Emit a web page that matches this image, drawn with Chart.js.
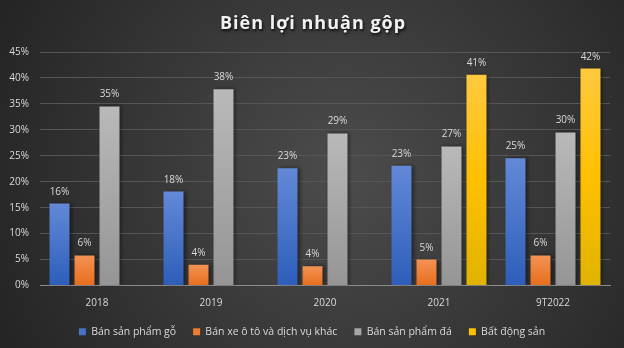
<!DOCTYPE html>
<html>
<head>
<meta charset="utf-8">
<script src="https://cdn.jsdelivr.net/npm/chart.js@4/dist/chart.umd.min.js"></script>
<style>
  html, body { margin: 0; padding: 0; background: #333; }
  #wrap { width: 624px; height: 348px; }
</style>
</head>
<body>
<div id="wrap"><canvas id="marginChart" width="624" height="348"></canvas></div>
<script>
// ===== Data =====
const chartTitle = 'Biên lợi nhuận gộp';
const years = ['2018', '2019', '2020', '2021', '9T2022'];
const seriesNames = ['Bán sản phẩm gỗ', 'Bán xe ô tô và dịch vụ khác', 'Bán sản phẩm đá', 'Bất động sản'];
const woodMargin = [15.8, 18.1, 22.6, 23.1, 24.5];
const carMargin = [5.8, 4.0, 3.7, 5.0, 5.8];
const stoneMargin = [34.5, 37.8, 29.3, 26.8, 29.5];
const propertyMargin = [null, null, null, 40.6, 41.8];
const yTicks = [0, 5, 10, 15, 20, 25, 30, 35, 40, 45];

const FONT = "'Open Sans', sans-serif";
const TEXT = '#d9d9d9';

// Colour stops per series (top -> bottom of each bar)
const legendColors = ['#4472c4', '#ed7d31', '#a5a5a5', '#ffc000'];
const barStops = [
  [[0, '#6389d7'], [1, '#2d5eba']],
  [[0, '#f39355'], [1, '#e76e1c']],
  [[0, '#b9b9b9'], [1, '#959595']],
  [[0, '#ffc940'], [0.5, '#ffc000'], [1, '#e0b300']]
];

// Per-bar vertical gradient
function barGradient(stops) {
  return (context) => {
    const chart = context.chart;
    const y = chart.scales && chart.scales.y;
    const v = context.raw;
    if (!y || !chart.chartArea || v == null) return stops[0][1];
    const top = y.getPixelForValue(v);
    const bottom = y.getPixelForValue(0);
    if (bottom - top < 1) return stops[0][1];
    const g = chart.ctx.createLinearGradient(0, top, 0, bottom);
    stops.forEach(s => g.addColorStop(s[0], s[1]));
    return g;
  };
}

// Dark radial background + title
const backdrop = {
  id: 'backdrop',
  beforeDraw(chart) {
    const { ctx, width, height } = chart;
    ctx.save();
    const g = ctx.createRadialGradient(width * 0.55, height * 0.5, 10, width * 0.55, height * 0.5, width * 0.6);
    g.addColorStop(0, '#4b4b4b');
    g.addColorStop(1, '#252525');
    ctx.fillStyle = g;
    ctx.fillRect(0, 0, width, height);
    ctx.restore();
  },
  afterDraw(chart) {
    const { ctx, width } = chart;
    ctx.save();
    ctx.font = `bold 18px ${FONT}`;
    ctx.letterSpacing = '1px';
    ctx.textAlign = 'center';
    ctx.textBaseline = 'alphabetic';
    ctx.shadowColor = 'rgba(0,0,0,0.8)';
    ctx.shadowBlur = 3;
    ctx.shadowOffsetX = 1;
    ctx.shadowOffsetY = 2;
    ctx.fillStyle = '#f2f2f2';
    ctx.fillText(chartTitle, width / 2 + 1, 29);
    ctx.restore();
  }
};

// Soft shadow behind bars
const barShadow = {
  id: 'barShadow',
  beforeDatasetsDraw(chart) {
    const ctx = chart.ctx;
    ctx.save();
    ctx.shadowColor = 'rgba(0,0,0,0.45)';
    ctx.shadowBlur = 4;
    ctx.shadowOffsetX = 2;
    ctx.shadowOffsetY = 0;
  },
  afterDatasetsDraw(chart) {
    chart.ctx.restore();
  }
};

// Value labels above bars
const valueLabels = {
  id: 'valueLabels',
  afterDatasetsDraw(chart) {
    const ctx = chart.ctx;
    ctx.save();
    ctx.font = `10px ${FONT}`;
    ctx.fillStyle = TEXT;
    ctx.textAlign = 'center';
    ctx.textBaseline = 'alphabetic';
    chart.data.datasets.forEach((ds, i) => {
      chart.getDatasetMeta(i).data.forEach((bar, j) => {
        const v = ds.data[j];
        if (v == null) return;
        ctx.fillText(Math.round(v) + '%', bar.x, bar.y - 9);
      });
    });
    ctx.restore();
  }
};

const seriesData = [woodMargin, carMargin, stoneMargin, propertyMargin];

new Chart(document.getElementById('marginChart'), {
  type: 'bar',
  data: {
    labels: years,
    datasets: seriesNames.map((name, i) => ({
      label: name,
      data: seriesData[i],
      backgroundColor: barGradient(barStops[i]),
      borderWidth: 0,
      categoryPercentage: 0.877,
      barPercentage: 0.8
    }))
  },
  options: {
    responsive: false,
    animation: false,
    layout: { padding: { top: 52, right: 0, left: 0, bottom: 1 } },
    plugins: {
      title: { display: false },
      tooltip: { enabled: false },
      legend: {
        position: 'bottom',
        labels: {
          color: TEXT,
          font: { family: FONT, size: 10.5 },
          boxWidth: 7,
          boxHeight: 7,
          padding: 17,
          generateLabels: (chart) => chart.data.datasets.map((ds, i) => ({
            text: ds.label,
            fillStyle: legendColors[i],
            strokeStyle: legendColors[i],
            lineWidth: 0,
            fontColor: TEXT,
            datasetIndex: i
          }))
        }
      }
    },
    scales: {
      x: {
        grid: { display: false },
        border: { display: true, color: '#8c8c8c', width: 1 },
        ticks: { color: TEXT, font: { family: FONT, size: 10 }, padding: 4 },
        afterFit: s => { s.height = 24; }
      },
      y: {
        min: 0,
        max: 45,
        afterBuildTicks: s => { s.ticks = yTicks.map(v => ({ value: v })); },
        grid: { color: '#565656', drawTicks: false },
        border: { display: false },
        ticks: { color: TEXT, font: { family: FONT, size: 10 }, padding: 11, callback: v => v + '%' },
        afterFit: s => { s.width = 40; }
      },
      // empty right-hand margin so the legend centres on the full width
      yRight: {
        position: 'right',
        min: 0,
        max: 45,
        grid: { display: false },
        border: { display: false },
        ticks: { display: false },
        afterFit: s => { s.width = 14; }
      }
    }
  },
  plugins: [backdrop, barShadow, valueLabels]
});
</script>
</body>
</html>
